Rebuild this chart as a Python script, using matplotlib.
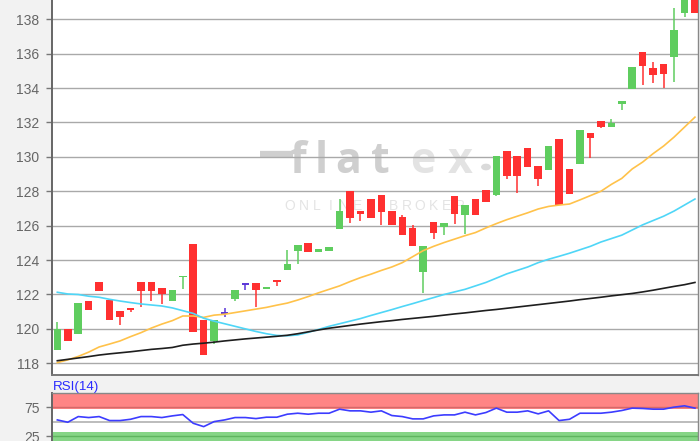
import matplotlib
matplotlib.use("Agg")
import matplotlib.pyplot as plt
from matplotlib.lines import Line2D
from matplotlib.patches import Circle

plt.rcParams['font.family'] = ['Liberation Sans', 'DejaVu Sans']

# ---------------- data ----------------
opens = [118.8, 120.0, 119.7, 121.6, 122.7, 121.7, 121.05, 121.2, 122.75, 122.7,
         122.4, 121.6, 123.0, 124.95, 120.5, 119.3, 120.95, 121.75, 122.6, 122.69,
         122.3, 122.87, 123.4, 124.54, 125.0, 124.48, 124.54, 125.8, 128.0, 126.84,
         127.57, 127.8, 126.84, 126.5, 125.87, 123.3, 126.2, 125.93, 127.73, 126.65,
         127.57, 128.1, 127.77, 130.34, 130.05, 130.53, 129.45, 129.26, 131.06, 129.3,
         129.57, 131.4, 132.08, 131.73, 133.05, 133.96, 136.08, 135.18, 135.4, 135.8,
         138.35, 139.6]
closes = [120.0, 119.3, 121.5, 121.1, 122.2, 120.5, 120.7, 121.1, 122.2, 122.2,
          122.0, 122.25, 123.1, 119.8, 118.5, 120.5, 120.95, 122.25, 122.6, 122.26,
          122.42, 122.74, 123.8, 124.87, 124.45, 124.67, 124.77, 126.84, 126.47, 126.7,
          126.47, 126.8, 126.03, 125.43, 124.8, 124.8, 125.58, 126.16, 126.7, 127.19,
          126.65, 127.38, 130.05, 128.87, 128.9, 129.41, 128.73, 130.61, 127.19, 127.83,
          131.58, 131.1, 131.73, 131.97, 133.22, 135.25, 135.27, 134.77, 134.83, 137.38,
          139.6, 138.35]
highs = [120.4, 120.0, 121.5, 121.6, 122.7, 121.7, 121.05, 121.2, 122.75, 122.7,
         122.4, 122.25, 123.1, 124.95, 120.5, 120.5, 121.2, 122.25, 122.6, 122.69,
         122.42, 122.87, 124.58, 124.87, 125.0, 124.67, 124.77, 127.57, 128.0, 126.84,
         127.57, 127.8, 126.84, 126.6, 126.03, 124.8, 126.2, 126.16, 127.73, 127.19,
         127.57, 128.1, 130.05, 130.34, 130.05, 130.53, 129.45, 130.61, 131.06, 129.3,
         131.58, 131.4, 132.08, 132.2, 133.22, 135.25, 136.08, 135.5, 135.4, 138.66,
         139.7, 139.7]
lows = [118.8, 119.3, 119.7, 121.1, 122.2, 120.5, 120.2, 121.0, 121.3, 121.6,
        121.45, 121.6, 122.3, 119.8, 118.5, 119.1, 120.7, 121.6, 122.25, 121.3,
        122.3, 122.49, 123.4, 123.76, 124.45, 124.48, 124.54, 125.8, 126.16, 126.3,
        126.47, 126.03, 126.03, 125.43, 124.8, 122.06, 125.2, 125.45, 126.12, 125.54,
        126.65, 127.38, 127.7, 128.73, 127.9, 129.41, 128.29, 129.26, 127.19, 127.83,
        129.57, 129.93, 131.68, 131.73, 132.7, 133.96, 134.15, 134.29, 134.0, 134.38,
        138.15, 138.35]

ma20 = [118.04, 118.2, 118.4, 118.65, 118.95, 119.12, 119.3, 119.55, 119.78, 120.05,
        120.28, 120.48, 120.75, 120.75, 120.67, 120.8, 120.85, 120.95, 121.05, 121.15,
        121.25, 121.38, 121.5, 121.68, 121.88, 122.1, 122.3, 122.5, 122.75, 122.98,
        123.18, 123.4, 123.6, 123.85, 124.2, 124.55, 124.8, 125.02, 125.22, 125.42,
        125.6, 125.87, 126.12, 126.35, 126.55, 126.75, 126.97, 127.12, 127.2, 127.26,
        127.5, 127.75, 128.0, 128.4, 128.75, 129.3, 129.7, 130.19, 130.63, 131.15,
        131.73, 132.31]
ma50 = [122.13, 122.03, 122.0, 121.9, 121.84, 121.72, 121.62, 121.53, 121.45, 121.39,
        121.33, 121.22, 121.06, 120.9, 120.62, 120.45, 120.3, 120.15, 120.0, 119.85,
        119.72, 119.62, 119.6, 119.65, 119.8, 119.97, 120.15, 120.3, 120.45, 120.6,
        120.78, 120.95, 121.12, 121.3, 121.47, 121.65, 121.82, 122.0, 122.15, 122.3,
        122.5, 122.7, 122.95, 123.2, 123.4, 123.6, 123.85, 124.05, 124.22, 124.4,
        124.6, 124.8, 125.05, 125.25, 125.45, 125.75, 126.05, 126.3, 126.55, 126.85,
        127.2, 127.55]
ma200 = [118.15, 118.23, 118.31, 118.39, 118.48, 118.55, 118.61, 118.67, 118.74, 118.81,
         118.86, 118.92, 119.05, 119.12, 119.17, 119.23, 119.3, 119.36, 119.42, 119.47,
         119.52, 119.57, 119.63, 119.72, 119.83, 119.94, 120.04, 120.12, 120.2, 120.28,
         120.35, 120.42, 120.48, 120.55, 120.61, 120.67, 120.73, 120.8, 120.87, 120.93,
         121.0, 121.07, 121.13, 121.2, 121.27, 121.34, 121.41, 121.48, 121.55, 121.62,
         121.7, 121.77, 121.84, 121.92, 121.99, 122.06, 122.15, 122.25, 122.36, 122.47,
         122.57, 122.7]
rsi = [52.9, 48.9, 58.7, 57.0, 58.7, 51.8, 51.8, 54.0, 58.7, 58.7,
       57.0, 59.9, 62.2, 47.1, 41.3, 50.0, 52.9, 57.0, 57.0, 55.2,
       57.6, 57.6, 62.8, 64.5, 62.8, 64.5, 64.5, 71.5, 68.6, 68.6,
       66.3, 68.6, 60.5, 58.7, 54.7, 54.7, 59.9, 61.6, 61.6, 66.3,
       61.6, 65.7, 73.3, 66.3, 66.3, 68.6, 63.4, 68.6, 51.8, 54.0,
       64.5, 64.5, 64.5, 66.3, 69.2, 73.3, 72.7, 71.5, 71.5, 75.0,
       77.3, 73.3]

price_ticks = [118, 120, 122, 124, 126, 128, 130, 132, 134, 136, 138]
rsi_ticks = [75, 25]
rsi_label = "RSI(14)"

# ---------------- figure ----------------
W, H = 700, 441
BG = '#f2f2f2'
fig = plt.figure(figsize=(W / 100, H / 100), dpi=100, facecolor=BG)

def fx(px):
    return px / W

def fy(py):
    return 1 - py / H

ax = fig.add_axes([fx(52), fy(375), (698.3 - 52) / W, 375 / H])
ax.set_facecolor('white')
ax.set_xlim(-0.51, 61.32)
ax.set_ylim(117.32, 139.12)
ax.set_yticks(price_ticks)
ax.set_yticklabels([str(t) for t in price_ticks])
ax.set_xticks([])
ax.set_axisbelow(True)
ax.grid(axis='y', color='#a9a9a9', lw=1.0)
ax.tick_params(axis='y', length=4, width=1, color='#777777', labelcolor='#666666',
               labelsize=10, pad=5)
ax.spines['top'].set_visible(False)
ax.spines['left'].set_color('#666666')
ax.spines['left'].set_linewidth(1.4)
ax.spines['bottom'].set_color('#777777')
ax.spines['bottom'].set_linewidth(1.4)
ax.spines['right'].set_color('#888888')
ax.spines['right'].set_linewidth(1.0)

# watermark (behind everything)
wm_dark = '#cfcfcf'
wm_light = '#e3e3e3'
ax.add_line(Line2D([fx(260), fx(293)], [fy(154), fy(154)], transform=fig.transFigure,
                   color=wm_dark, lw=4.5, solid_capstyle='butt', zorder=0.3))
for ch, px, col in [('f', 298, wm_dark), ('l', 321.5, wm_dark), ('a', 348, wm_dark),
                    ('t', 380, wm_dark), ('e', 423, wm_light), ('x', 460, wm_light)]:
    ax.text(fx(px), fy(173), ch, transform=fig.transFigure, ha='center', va='baseline',
            fontsize=31, fontweight='bold', family=['Open Sans', 'DejaVu Sans'],
            color=col, zorder=0.3)
ax.add_patch(Circle((fx(486), fy(167)), 0.006, transform=fig.transFigure,
                    color='#dadada', zorder=0.3))
for ch, px in [('O', 290), ('N', 303.4), ('L', 316.8), ('I', 330.2), ('N', 343.6),
               ('E', 357), ('B', 393.3), ('R', 406.7), ('O', 420), ('K', 433.3),
               ('E', 446.7), ('R', 460)]:
    ax.text(fx(px), fy(206), ch, transform=fig.transFigure, ha='center', va='center',
            fontsize=10, color='#e4e4e4', zorder=0.3)

# candles
RED = '#ff3030'
GREEN = '#5fcd5f'
PURPLE = '#5a35d8'
bw = 0.72
for i, (o, h, l, c) in enumerate(zip(opens, highs, lows, closes)):
    if o == c:
        col = PURPLE
        ax.vlines(i, l, h, color=col, lw=1.1, zorder=3)
        ax.hlines(o, i - bw / 2, i + bw / 2, color=col, lw=1.4, zorder=3)
        continue
    col = GREEN if c > o else RED
    ax.vlines(i, l, h, color=col, lw=1.1, zorder=3)
    bottom = min(o, c)
    height = max(abs(c - o), 0.09)
    ax.bar(i, height, bottom=bottom, width=bw, color=col, edgecolor='none', zorder=3)

xs = list(range(len(closes)))
ax.plot(xs, ma20, color='#ffc24a', lw=1.2, zorder=4)
ax.plot(xs, ma50, color='#4fd6f7', lw=1.2, zorder=4)
ax.plot(xs, ma200, color='#1e1e1e', lw=1.2, zorder=4)

# ---------------- RSI panel ----------------
rax = fig.add_axes([fx(52), fy(450.5), (698.3 - 52) / W, (450.5 - 392.7) / H])
rax.set_facecolor('white')
rax.set_xlim(-0.51, 61.32)
rax.set_ylim(0, 100)
rax.axhspan(71.5, 100, color='#ff8585', lw=0, zorder=0.5)
rax.axhspan(0, 32.5, color='#86d586', lw=0, zorder=0.5)
rax.axhline(75, color='#d46a6a', lw=1.0, zorder=1)
rax.axhline(50, color='#b0b0b0', lw=1.2, zorder=1)
rax.axhline(25, color='#5fb55f', lw=1.0, zorder=1)
rax.plot(xs, rsi, color='#3c3cff', lw=1.2, zorder=3)
rax.set_xticks([])
rax.set_yticks(rsi_ticks)
rax.set_yticklabels([str(t) for t in rsi_ticks])
rax.tick_params(axis='y', length=4, width=1, color='#777777', labelcolor='#666666',
                labelsize=10, pad=5)
for s in ['top', 'right']:
    rax.spines[s].set_color('#888888')
    rax.spines[s].set_linewidth(1.0)
rax.spines['left'].set_color('#666666')
rax.spines['left'].set_linewidth(1.4)
rax.spines['bottom'].set_visible(False)

fig.text(fx(53), fy(390), rsi_label, color='#2a2aff', fontsize=9.6, va='baseline', ha='left')

fig.savefig('out.png', dpi=100, facecolor=BG)
